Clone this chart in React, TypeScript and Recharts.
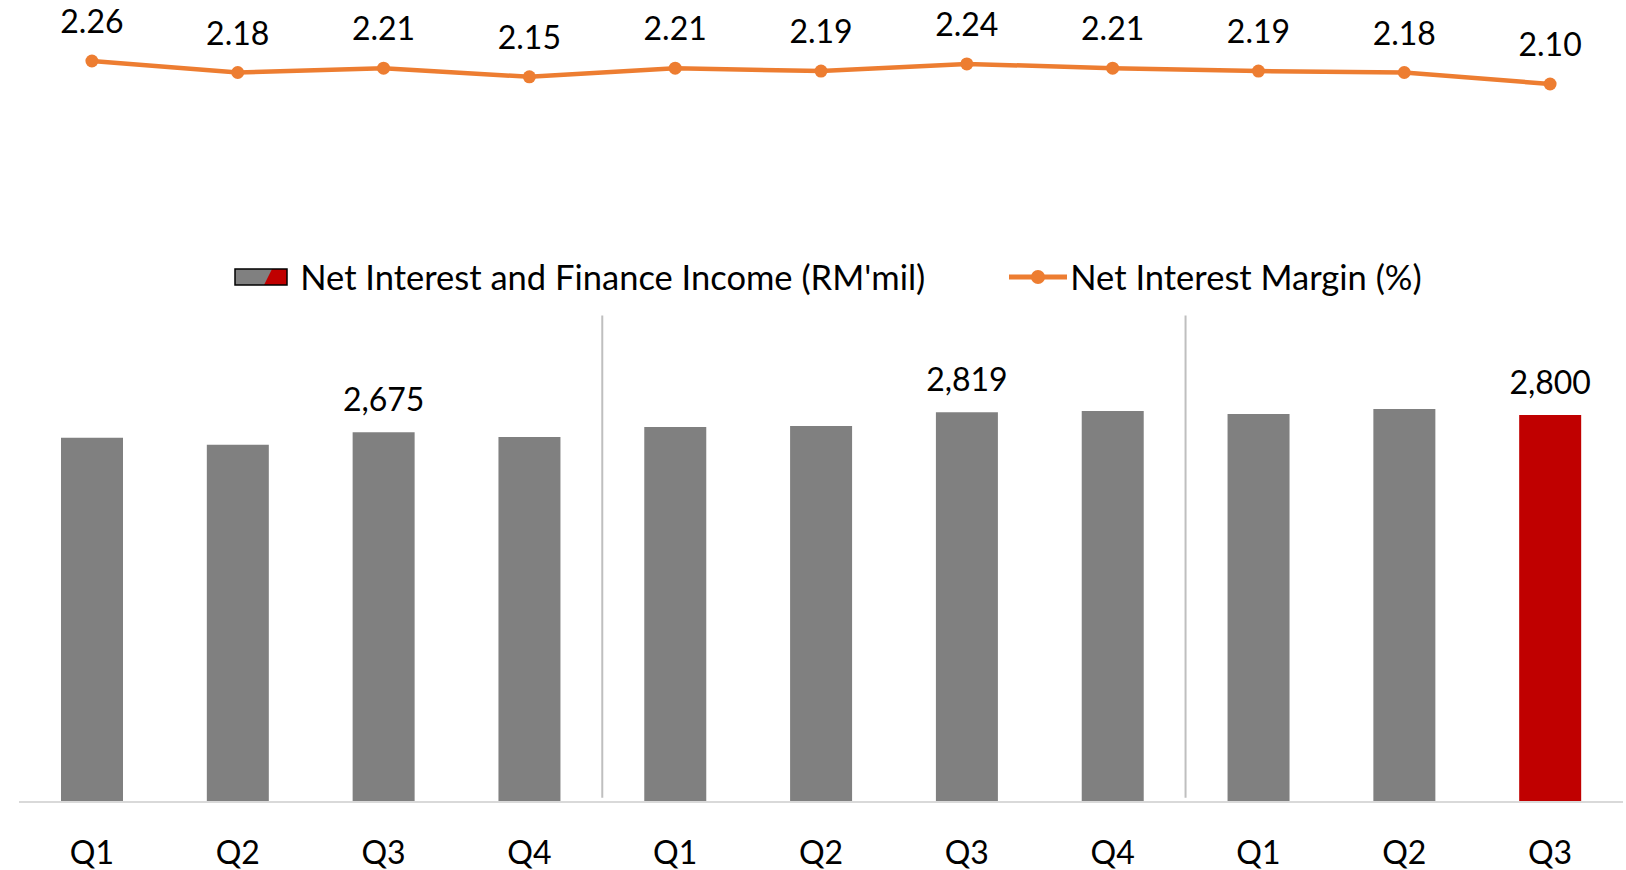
import React from "react";
import {
    ComposedChart,
    Bar,
    Line,
    XAxis,
    YAxis,
    Cell,
    LabelList,
    Legend,
    ReferenceLine,
} from "recharts";

const QUARTERS = ["Q1", "Q2", "Q3", "Q4", "Q1", "Q2", "Q3", "Q4", "Q1", "Q2", "Q3"];
const NET_INCOME = [2636, 2584, 2675, 2641, 2713, 2720, 2819, 2829, 2807, 2843, 2800];
const NIM = [2.26, 2.18, 2.21, 2.15, 2.21, 2.19, 2.24, 2.21, 2.19, 2.18, 2.1];
const YEAR_BREAKS = [3.5, 7.5];

const GREY = "#808080";
const RED = "#C00000";
const ORANGE = "#ED7D31";
const FONT = "Lato, 'Open Sans', sans-serif";

const data = QUARTERS.map((q, i) => ({
    idx: i,
    quarter: q,
    income: NET_INCOME[i],
    nim: NIM[i],
    // only the Q3 bars carry a value label
    incomeLabel: q === "Q3" ? NET_INCOME[i] : null,
}));

const QuarterTick = ({ x, y, payload }: any) => (
    <text
        x={x}
        y={y + 62}
        textAnchor="middle"
        fontSize={32}
        fontFamily={FONT}
        fill="#000"
    >
        {QUARTERS[payload.value]}
    </text>
);

const LegendContent = () => (
    <div
        style={{
            display: "flex",
            alignItems: "center",
            justifyContent: "center",
            fontFamily: FONT,
            fontSize: 34.5,
            color: "#000",
            paddingLeft: 30,
        }}
    >
        <svg width={54} height={18}>
            <rect x={1} y={1} width={52} height={16} fill={GREY} />
            <polygon points="30,17 38,1 53,1 53,17" fill={RED} />
            <rect x={1} y={1} width={52} height={16} fill="none" stroke="#000" strokeWidth={1.5} />
        </svg>
        <span style={{ marginLeft: 12 }}>Net Interest and Finance Income (RM'mil)</span>
        <svg width={58} height={16} style={{ marginLeft: 84 }}>
            <line x1={0} y1={8} x2={58} y2={8} stroke={ORANGE} strokeWidth={5} />
            <circle cx={29} cy={8} r={7} fill={ORANGE} />
        </svg>
        <span style={{ marginLeft: 3 }}>Net Interest Margin (%)</span>
    </div>
);

const App: React.FC = () => (
    <div style={{ position: "absolute", left: 0, top: 0, width: 1626, height: 870, background: "#fff" }}>
        <ComposedChart
            width={1626}
            height={870}
            data={data}
            margin={{ top: 28, right: 3, left: 19, bottom: 8 }}
        >
            <XAxis
                xAxisId="x"
                type="number"
                dataKey="idx"
                domain={[-0.5, 10.5]}
                ticks={data.map((d) => d.idx)}
                interval={0}
                height={60}
                tickLine={false}
                tickSize={0}
                tickMargin={0}
                axisLine={{ stroke: "#D9D9D9", strokeWidth: 2 }}
                tick={<QuarterTick />}
            />
            <YAxis yAxisId="left" hide domain={[0, 5600]} />
            <YAxis yAxisId="right" hide orientation="right" domain={[-2.9, 2.49]} />
            <Legend
                verticalAlign="middle"
                align="center"
                content={<LegendContent />}
                wrapperStyle={{ top: 256, left: 0, width: 1626 }}
            />
            {YEAR_BREAKS.map((b) => (
                <ReferenceLine
                    key={b}
                    xAxisId="x"
                    yAxisId="left"
                    segment={[
                        { x: b, y: 30 },
                        { x: b, y: 3520 },
                    ]}
                    stroke="#BFBFBF"
                    strokeWidth={2}
                />
            ))}
            <Bar xAxisId="x" yAxisId="left" dataKey="income" barSize={62} isAnimationActive={false}>
                {data.map((d, i) => (
                    <Cell key={i} fill={i === data.length - 1 ? RED : GREY} />
                ))}
                <LabelList
                    dataKey="incomeLabel"
                    position="top"
                    offset={21}
                    formatter={(v: any) => Number(v).toLocaleString("en-US")}
                    fill="#000"
                    fontSize={32}
                    fontFamily={FONT}
                />
            </Bar>
            <Line
                xAxisId="x"
                yAxisId="right"
                dataKey="nim"
                stroke={ORANGE}
                strokeWidth={4.5}
                dot={{ r: 6.5, fill: ORANGE, stroke: ORANGE, strokeWidth: 0 }}
                activeDot={false}
                isAnimationActive={false}
            >
                <LabelList
                    dataKey="nim"
                    position="top"
                    offset={28}
                    formatter={(v: any) => Number(v).toFixed(2)}
                    fill="#000"
                    stroke="none"
                    fontSize={32}
                    fontFamily={FONT}
                />
            </Line>
        </ComposedChart>
    </div>
);

export default App;
